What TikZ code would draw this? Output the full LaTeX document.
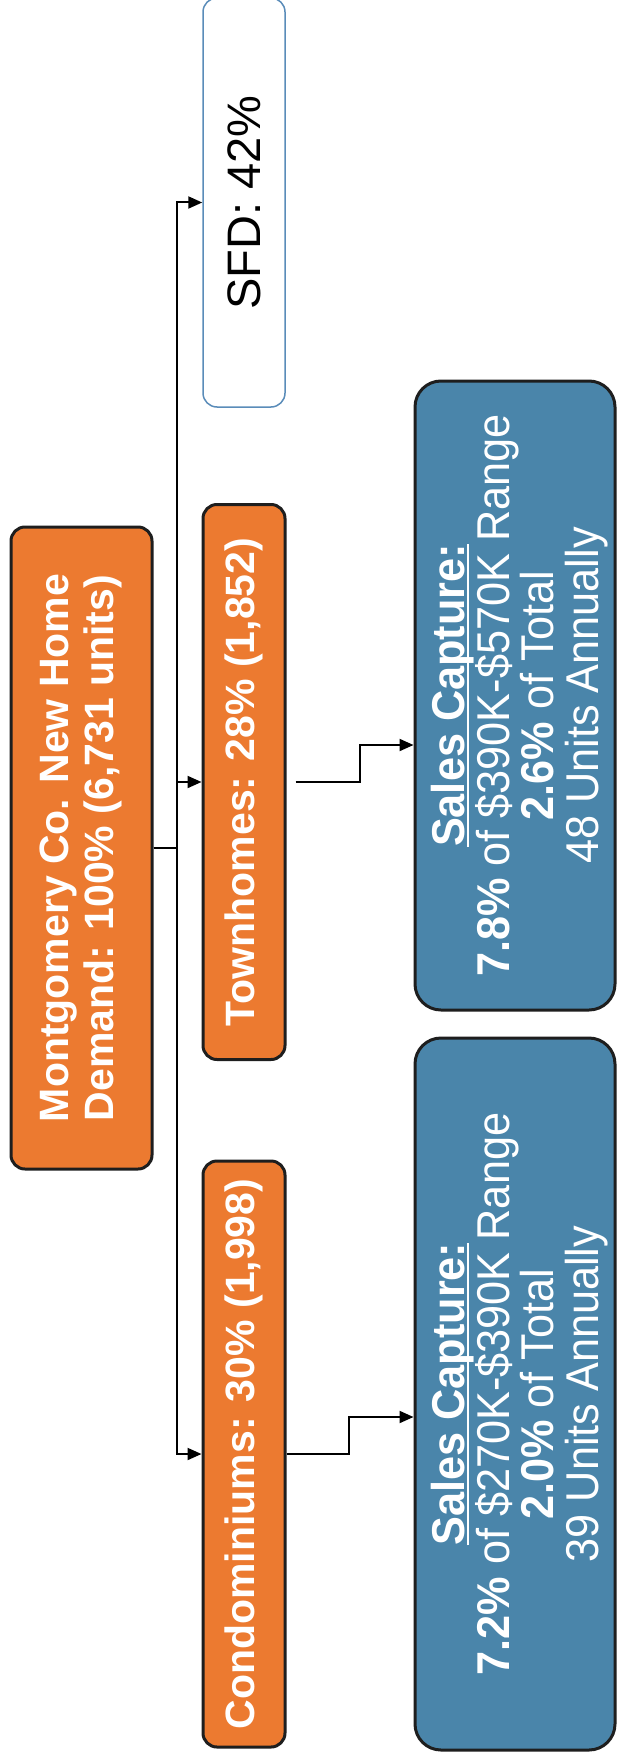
\documentclass[tikz,border=0pt]{standalone}
\usepackage{fontspec}
\setmainfont{Liberation Sans}
\newfontfamily\narrowfont[FakeStretch=0.94]{Liberation Sans}
\usetikzlibrary{arrows.meta}
\definecolor{orng}{RGB}{236,122,48}
\definecolor{stblue}{RGB}{74,133,170}
\definecolor{sfdblue}{RGB}{90,140,185}
\definecolor{bord}{RGB}{30,30,30}
\newcommand\myul[1]{\setbox0\hbox{#1}\rlap{\rule[-5pt]{\wd0}{2.6pt}}\box0}
\begin{document}
\begin{tikzpicture}[x=1pt,y=-1pt,
  obox/.style={draw=bord, line width=3pt, fill=orng, rounded corners=14pt, inner sep=0pt, text=white, font=\fontsize{41}{45}\selectfont\bfseries},
  bbox/.style={draw=bord, line width=3pt, fill=stblue, rounded corners=26pt, inner sep=0pt},
  btext/.style={text=white, font=\narrowfont\fontsize{46}{37}\selectfont, inner sep=0pt},
  wbox/.style={draw=sfdblue, line width=1.5pt, fill=white, rounded corners=14pt, inner sep=0pt, text=black, font=\fontsize{47}{50}\selectfont},
  arr/.style={draw=black, line width=2pt, -{Triangle[length=14pt,width=12pt]}}
]
\useasboundingbox[fill=white] (0,0) rectangle (617,1760);
\node[obox, minimum width=141pt, minimum height=642pt] (main) at (81.5,848)
  {\rotatebox{90}{\begin{tabular}{@{}c@{}}Montgomery Co. New Home\\Demand: 100\% (6,731 units)\end{tabular}}};
\node[wbox, minimum width=82pt, minimum height=409pt] (sfd) at (244,202.5)
  {\rotatebox{90}{SFD: 42\%}};
\node[obox, minimum width=82pt, minimum height=555pt] (th) at (244,782)
  {\rotatebox{90}{Townhomes: 28\% (1,852)}};
\node[obox, minimum width=82pt, minimum height=586pt] (condo) at (244,1454)
  {\rotatebox{90}{Condominiums: 30\% (1,998)}};
\node[bbox, minimum width=200pt, minimum height=629pt] (thb) at (515,695.5) {};
\node[btext] (thbt) at ([xshift=5pt]thb.center)
  {\rotatebox{90}{\begin{tabular}{@{}c@{}}\textbf{\myul{Sales Capture:}}\\\textbf{7.8\%} of \$390K-\$570K Range\\\textbf{2.6\%} of Total\\48 Units Annually\end{tabular}}};
\node[bbox, minimum width=200pt, minimum height=712pt] (cob) at (515,1394) {};
\node[btext] (cobt) at ([xshift=5pt]cob.center)
  {\rotatebox{90}{\begin{tabular}{@{}c@{}}\textbf{\myul{Sales Capture:}}\\\textbf{7.2\%} of \$270K-\$390K Range\\\textbf{2.0\%} of Total\\39 Units Annually\end{tabular}}};
\draw[arr] (main.east) -- ++(23,0) |- (sfd.west);
\draw[arr] (main.east) -- ++(23,0) |- (th.west);
\draw[arr] (main.east) -- ++(23,0) |- (condo.west);
\draw[arr] ([xshift=9pt]th.east) -- ++(64,0) |- ([yshift=-49.5pt]thb.west);
\draw[arr] (condo.east) -- ++(62,0) |- ([yshift=-23pt]cob.west);
\end{tikzpicture}
\end{document}
